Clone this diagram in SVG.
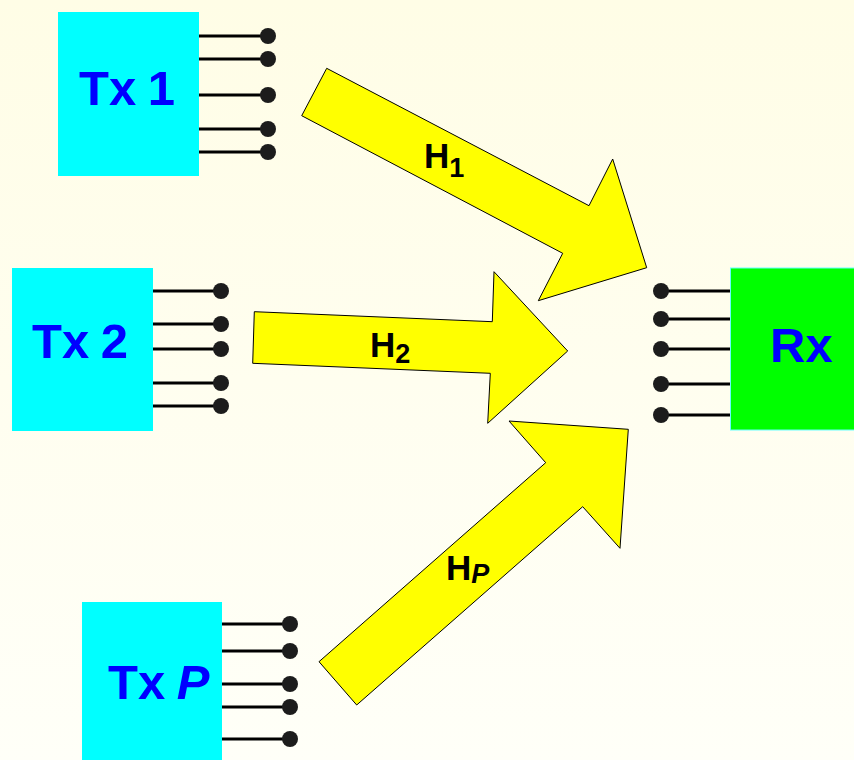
<svg xmlns="http://www.w3.org/2000/svg" width="854" height="760" viewBox="0 0 854 760">
  <defs>
    <linearGradient id="bg" x1="0" y1="0" x2="0" y2="1">
      <stop offset="0" stop-color="#FFFDE6"/>
      <stop offset="1" stop-color="#FFFFF8"/>
    </linearGradient>
    <style>
      .tx { fill: #00FFFF; }
      .rx { fill: #00FF00; stroke: #66FFFF; stroke-width: 1; }
      .lbl { font-family: "Liberation Sans", Arial, sans-serif; font-weight: bold; font-size: 49px; fill: #0000FF; word-spacing: -2px; }
      .pin { stroke: #000; stroke-width: 3; }
      .dot { fill: #1C1C1C; }
      .arrow { fill: #FFFF00; stroke: #000; stroke-width: 1; stroke-linejoin: miter; }
      .h { font-family: "Liberation Sans", Arial, sans-serif; font-weight: bold; font-size: 35px; fill: #000; }
      .sub { font-size: 27px; }
      .it { font-style: italic; }
    </style>
  </defs>
  <rect x="0" y="0" width="854" height="760" fill="url(#bg)"/>

  <g id="tx1">
    <rect class="tx" x="58" y="12" width="141" height="164"/>
    <text class="lbl" x="79" y="105">Tx 1</text>
    <g class="pin">
      <line x1="199" y1="36" x2="268" y2="36"/>
      <line x1="199" y1="59" x2="268" y2="59"/>
      <line x1="199" y1="95" x2="268" y2="95"/>
      <line x1="199" y1="129" x2="268" y2="129"/>
      <line x1="199" y1="152" x2="268" y2="152"/>
    </g>
    <g class="dot">
      <circle cx="268" cy="36" r="8"/>
      <circle cx="268" cy="59" r="8"/>
      <circle cx="268" cy="95" r="8"/>
      <circle cx="268" cy="129" r="8"/>
      <circle cx="268" cy="152" r="8"/>
    </g>
  </g>

  <g id="tx2">
    <rect class="tx" x="12" y="268" width="141" height="163"/>
    <text class="lbl" x="32" y="358">Tx 2</text>
    <g class="pin">
      <line x1="153" y1="291" x2="221" y2="291"/>
      <line x1="153" y1="324" x2="221" y2="324"/>
      <line x1="153" y1="349" x2="221" y2="349"/>
      <line x1="153" y1="383" x2="221" y2="383"/>
      <line x1="153" y1="406" x2="221" y2="406"/>
    </g>
    <g class="dot">
      <circle cx="221" cy="291" r="8"/>
      <circle cx="221" cy="324" r="8"/>
      <circle cx="221" cy="349" r="8"/>
      <circle cx="221" cy="383" r="8"/>
      <circle cx="221" cy="406" r="8"/>
    </g>
  </g>

  <g id="txp">
    <rect class="tx" x="82" y="602" width="140" height="160"/>
    <text class="lbl" x="108" y="699">Tx <tspan class="it">P</tspan></text>
    <g class="pin">
      <line x1="222" y1="624" x2="290" y2="624"/>
      <line x1="222" y1="651" x2="290" y2="651"/>
      <line x1="222" y1="684" x2="290" y2="684"/>
      <line x1="222" y1="707" x2="290" y2="707"/>
      <line x1="222" y1="739" x2="290" y2="739"/>
    </g>
    <g class="dot">
      <circle cx="290" cy="624" r="8"/>
      <circle cx="290" cy="651" r="8"/>
      <circle cx="290" cy="684" r="8"/>
      <circle cx="290" cy="707" r="8"/>
      <circle cx="290" cy="739" r="8"/>
    </g>
  </g>

  <g id="rx">
    <rect class="rx" x="730.5" y="268" width="130" height="162"/>
    <text class="lbl" x="770" y="361.5">Rx</text>
    <g class="pin">
      <line x1="661" y1="291" x2="730" y2="291"/>
      <line x1="661" y1="319" x2="730" y2="319"/>
      <line x1="661" y1="349" x2="730" y2="349"/>
      <line x1="661" y1="384" x2="730" y2="384"/>
      <line x1="661" y1="415" x2="730" y2="415"/>
    </g>
    <g class="dot">
      <circle cx="661" cy="291" r="8"/>
      <circle cx="661" cy="319" r="8"/>
      <circle cx="661" cy="349" r="8"/>
      <circle cx="661" cy="384" r="8"/>
      <circle cx="661" cy="415" r="8"/>
    </g>
  </g>

  <g id="connectors">
    <g id="h1">
      <polygon class="arrow" points="326.7,68.3 589,205.7 612.7,159 646.7,267.7 538.3,300.7 562.7,253.3 301.7,115.7"/>
      <text class="h" x="424" y="168">H<tspan class="sub" dy="9">1</tspan></text>
    </g>
    <g id="h2">
      <polygon class="arrow" points="254.3,311.7 492.3,321.7 494,271.7 567.7,351 487.7,423.3 490.3,373.3 252.7,363.3"/>
      <text class="h" x="370" y="356.5">H<tspan class="sub" dy="6">2</tspan></text>
    </g>
    <g id="hp">
      <polygon class="arrow" points="356.7,705 582.7,506.7 620,548.3 628.3,429.3 509,421 545.7,462.7 319,661.7"/>
      <text class="h" x="446" y="580">H<tspan class="sub it" dy="3">P</tspan></text>
    </g>
  </g>
</svg>
